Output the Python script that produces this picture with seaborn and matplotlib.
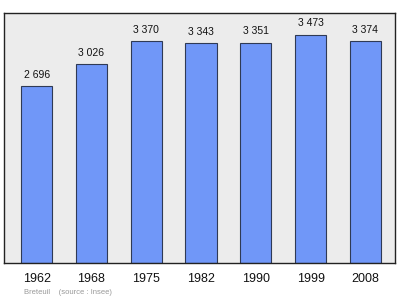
import matplotlib
matplotlib.use("Agg")
import matplotlib.pyplot as plt
import seaborn as sns
import pandas as pd

years = ["1962", "1968", "1975", "1982", "1990", "1999", "2008"]
population = [2696, 3026, 3370, 3343, 3351, 3473, 3374]
value_labels = ["2 696", "3 026", "3 370", "3 343", "3 351", "3 473", "3 374"]

df = pd.DataFrame({"year": years, "pop": population})

sns.set_style("white")
plt.rcParams['font.family'] = ['Liberation Sans', 'DejaVu Sans']

fig = plt.figure(figsize=(4.0, 2.99), dpi=100)
ax = fig.add_axes([4/400, 1 - 263/299, 391/400, 250/299])
ax.set_facecolor("#ececec")

sns.barplot(data=df, x="year", y="pop", color="#7097f8", saturation=1,
            width=0.57, edgecolor="#2f3a55", linewidth=0.8, ax=ax)

for i, (v, lab) in enumerate(zip(population, value_labels)):
    ax.annotate(lab, (i, v), xytext=(0, 5.8), textcoords="offset points",
                ha="center", va="baseline", fontsize=7.5, color="#111111")

ax.set_xlim(-0.595, 6.54)
ax.set_ylim(0, 3800)
ax.set_yticks([])
ax.set_xlabel("")
ax.set_ylabel("")
ax.tick_params(axis="x", length=0, pad=7.5, labelsize=9, labelcolor="#111111")
for s in ax.spines.values():
    s.set_visible(True)
    s.set_color("#222222")
    s.set_linewidth(1.0)

fig.text(24/400, 1 - 292/299, "Breteuil    (source : Insee)", fontsize=5.5,
         color="#999999", va="center", ha="left")

fig.savefig("out.png", dpi=100)
